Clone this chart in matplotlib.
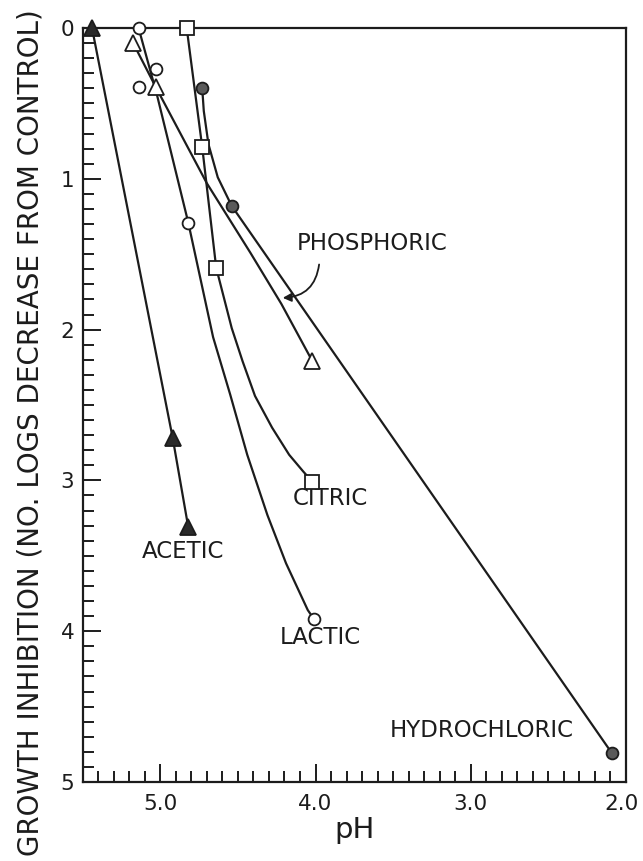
import matplotlib
matplotlib.use("Agg")
import matplotlib.pyplot as plt
from matplotlib.ticker import FixedLocator
from matplotlib.patches import FancyArrowPatch
from matplotlib.transforms import ScaledTranslation
import numpy as np

# Measured points: pH and growth inhibition (log decrease from control)
acetic_ph = [5.44, 4.92, 4.82]
acetic_dec = [0.0, 2.72, 3.31]

lactic_ph = [5.14, 5.03, 5.14, 4.82, 4.01]
lactic_dec = [0.0, 0.27, 0.39, 1.29, 3.92]
lactic_curve_ph = [5.14, 5.02, 4.82, 4.66, 4.55, 4.44, 4.31, 4.19, 4.05, 4.01]
lactic_curve_dec = [0.0, 0.45, 1.29, 2.05, 2.43, 2.83, 3.23, 3.55, 3.86, 3.92]

phosphoric_ph = [5.175, 5.03, 4.02]
phosphoric_dec = [0.10, 0.39, 2.21]
phosphoric_curve_ph = [5.175, 5.03, 4.70, 4.42, 4.22, 4.02]
phosphoric_curve_dec = [0.10, 0.39, 1.03, 1.49, 1.83, 2.21]

citric_ph = [4.83, 4.73, 4.64, 4.02]
citric_dec = [0.0, 0.79, 1.59, 3.01]
citric_curve_ph = [4.83, 4.73, 4.64, 4.54, 4.47, 4.39, 4.28, 4.17, 4.08, 4.02]
citric_curve_dec = [0.0, 0.79, 1.59, 1.99, 2.21, 2.44, 2.65, 2.83, 2.94, 3.01]

hydrochloric_ph = [4.73, 4.54, 2.09]
hydrochloric_dec = [0.40, 1.18, 4.81]
hydrochloric_curve_ph = [4.73, 4.72, 4.69, 4.63, 4.54, 2.09]
hydrochloric_curve_dec = [0.40, 0.55, 0.77, 0.99, 1.18, 4.81]

x_major = [5.0, 4.0, 3.0, 2.0]
x_labels = ["5.0", "4.0", "3.0", "2.0"]
y_major = [0, 1, 2, 3, 4, 5]
y_labels = ["0", "1", "2", "3", "4", "5"]

INK = "#1c1c1c"
plt.rcParams["font.family"] = ["DejaVu Sans"]

fig = plt.figure(figsize=(6.43, 8.61), dpi=100)
W, H = 643, 861
ax = fig.add_axes([82.7 / W, 1 - 782 / H, (626 - 82.7) / W, (782 - 28) / H])
ax.set_xlim(5.5, 2.0)
ax.set_ylim(5, 0)

line_kw = dict(color=INK, lw=1.6, solid_capstyle="round", solid_joinstyle="round", zorder=2)
ax.plot(acetic_ph, acetic_dec, **line_kw)
ax.plot(lactic_curve_ph, lactic_curve_dec, **line_kw)
ax.plot(phosphoric_curve_ph, phosphoric_curve_dec, **line_kw)
ax.plot(citric_curve_ph, citric_curve_dec, **line_kw)
ax.plot(hydrochloric_curve_ph, hydrochloric_curve_dec, **line_kw)

mk = dict(linestyle="none", markeredgecolor=INK, markeredgewidth=1.3, zorder=4, clip_on=False)
ax.plot(acetic_ph, acetic_dec, marker="^", markersize=11, markerfacecolor="#2a2a2a", **mk)
ax.plot(lactic_ph, lactic_dec, marker="o", markersize=8.5, markerfacecolor="white", **mk)
ax.plot(phosphoric_ph, phosphoric_dec, marker="^", markersize=11, markerfacecolor="white", **mk)
ax.plot(citric_ph, citric_dec, marker="s", markersize=9.5, markerfacecolor="white", **mk)
ax.plot(hydrochloric_ph, hydrochloric_dec, marker="o", markersize=8.5, markerfacecolor="#5a5a5a", **mk)

# Series labels
lab = dict(fontsize=16.5, color=INK, va="center", ha="left")
ax.text(4.12, 1.43, "PHOSPHORIC", **lab)
ax.text(4.145, 3.12, "CITRIC", **lab)
ax.text(5.118, 3.47, "ACETIC", **lab)
ax.text(4.229, 4.045, "LACTIC", **lab)
ax.text(3.52, 4.66, "HYDROCHLORIC", **lab)

arrow = FancyArrowPatch((3.975, 1.55), (4.229, 1.79),
                        connectionstyle="arc3,rad=-0.45",
                        arrowstyle="-|>,head_length=5,head_width=2.5",
                        color=INK, lw=1.3, zorder=5)
ax.add_patch(arrow)

# Axes frame and ticks
for sp in ax.spines.values():
    sp.set_linewidth(1.6)
    sp.set_color(INK)

ax.xaxis.set_major_locator(FixedLocator(x_major))
ax.set_xticklabels(x_labels)
ax.xaxis.set_minor_locator(FixedLocator(np.round(np.arange(2.1, 5.45, 0.1), 2)))
ax.yaxis.set_major_locator(FixedLocator(y_major))
ax.set_yticklabels(y_labels)
ax.yaxis.set_minor_locator(FixedLocator(np.round(np.arange(0.1, 5.0, 0.1), 2)))

ax.tick_params(which="both", direction="in", color=INK, width=1.4,
               top=False, right=False, labelsize=15.5, labelcolor=INK)
ax.tick_params(which="major", length=13)
ax.tick_params(which="minor", length=8)
ax.tick_params(axis="x", which="major", pad=9)
ax.tick_params(axis="y", which="major", pad=6)

# keep the last pH label inside the figure
last = ax.get_xticklabels()[-1]
last.set_transform(last.get_transform() + ScaledTranslation(-5 / 100, 0, fig.dpi_scale_trans))

fig.text(355 / W, 1 - 830 / H, "pH", fontsize=21, color=INK, ha="center", va="center")
fig.text(31 / W, 1 - 433 / H, "GROWTH INHIBITION (NO. LOGS DECREASE FROM CONTROL)",
         fontsize=20, color=INK, rotation=90, ha="center", va="center")

fig.savefig("out.png", dpi=100, facecolor="white")
